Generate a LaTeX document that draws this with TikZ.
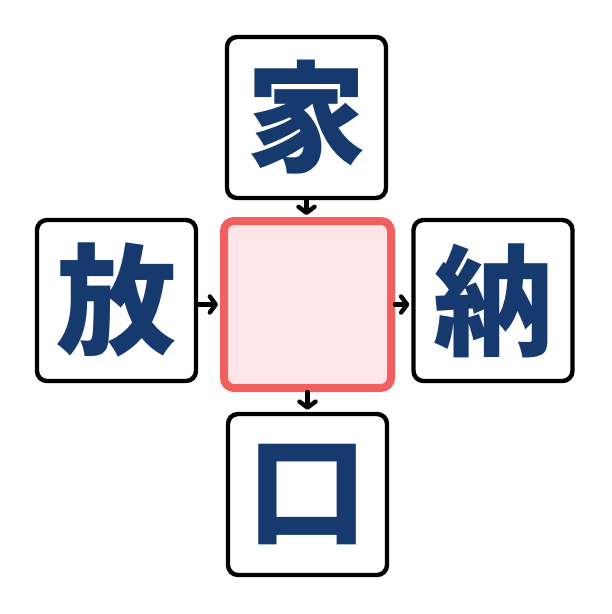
\documentclass[tikz,border=0pt]{standalone}
\usepackage{fontspec}
\newfontfamily\cjk{Noto Sans CJK JP}
\usetikzlibrary{arrows.meta}
\definecolor{navy}{HTML}{173A6E}
\definecolor{redline}{HTML}{F25F5F}
\definecolor{pinkfill}{HTML}{FFE5E7}
\tikzset{
  charbox/.style={draw=black, line width=4.4pt, rounded corners=10pt, fill=white,
    minimum width=159pt, minimum height=161pt, inner sep=0pt,
    font=\cjk\bfseries\fontsize{120pt}{120pt}\selectfont, text=navy},
  centerbox/.style={draw=redline, fill=pinkfill, line width=8pt, rounded corners=10pt,
    minimum width=167pt, minimum height=167pt, inner sep=0pt},
  link/.style={line width=4.4pt, line cap=round, shorten >=2pt, -{Straight Barb[length=6pt,width=16pt,line cap=round,line join=round]}}
}
\begin{document}
\begin{tikzpicture}[x=1pt,y=-1pt]
\useasboundingbox (0,0) rectangle (612,614);
\node[charbox] (t) at (306.5,117.5) {家};
\node[charbox] (l) at (116.5,300.5) {放};
\node[charbox] (r) at (493,300.5) {納};
\node[charbox] (b) at (307.5,494.5) {口};
\node[centerbox] (c) at (307.5,304.5) {};
\draw[link] (t.south) -- (t.south |- c.north);
\draw[link] (l.east |- c.center) -- (c.west);
\draw[link] (c.east) -- (r.west |- c.center);
\draw[link] (c.south) -- (c.south |- b.north);
\end{tikzpicture}
\end{document}
